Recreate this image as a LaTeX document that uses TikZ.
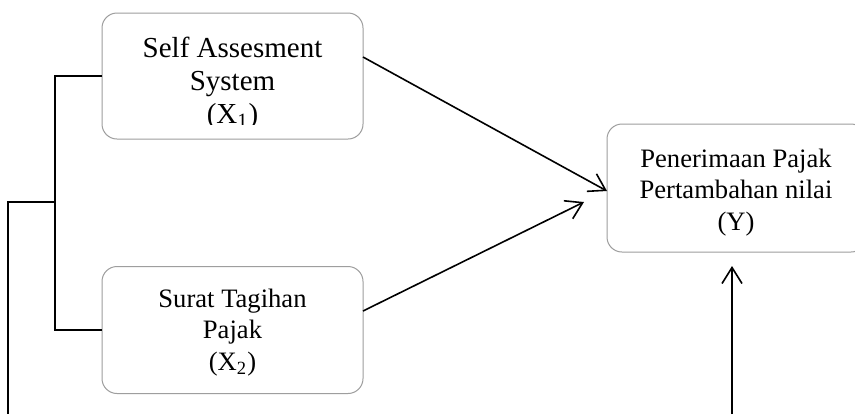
\documentclass[tikz,border=0pt]{standalone}
\usepackage{fontspec}
\setmainfont{Liberation Serif}
\usetikzlibrary{arrows.meta,calc}

\begin{document}
\begin{tikzpicture}[x=0.5pt,y=-0.5pt,
  varbox/.style={draw=black!38,line width=0.5pt,rounded corners=7.5pt,
    inner sep=0pt,outer sep=0pt},
  bigtext/.style={align=center,inner sep=0pt,
    font=\fontsize{14.5pt}{16.5pt}\selectfont},
  smalltext/.style={align=center,inner sep=0pt,
    font=\fontsize{13.3pt}{15.7pt}\selectfont},
  link/.style={line width=0.8pt,black},
  arr/.style={link,-{Straight Barb[length=8pt,width=10pt,line width=0.8pt]}}]

\useasboundingbox[fill=white] (0,0) rectangle (855,414);

% variable boxes
\node[varbox,minimum width=130.5pt,minimum height=63pt] (x1) at (232.5,76) {};
\node[varbox,minimum width=130.5pt,minimum height=63.5pt] (x2) at (232.5,330) {};
\node[varbox,minimum width=129.5pt,minimum height=64pt] (y) at (736.5,188) {};

% box texts (the first box's text overflows its frame and is cut at the bottom)
\begin{scope}
  \clip (102,13) rectangle (363,124.5);
  \node[bigtext] (x1t) at (232.5,83) {Self Assesment\\System\\(X\textsubscript{1})};
\end{scope}
\node[smalltext] (x2t) at (232.5,332.5) {Surat Tagihan\\Pajak\\(X\textsubscript{2})};
\node[smalltext] (yt) at (736,192.5) {Penerimaan Pajak\\Pertambahan nilai\\(Y)};

% bracket joining the two independent variables
\coordinate (j) at (55,202);
\coordinate (jb) at (8,414);
\draw[link] (x1.west) -| (j) |- (x2.west);
\draw[link] (j) -| (jb);

% arrows to the dependent variable
\coordinate (tip2) at (584,202);
\coordinate (yfoot) at (732,414);
\coordinate (ytip) at (732,266);
\draw[arr] ($(x1.east)+(0,-19)$) -- ($(y.west)+(0,3)$);
\draw[arr] ($(x2.east)+(0,-19)$) -- (tip2);
\draw[arr] (yfoot) -- (ytip);
\end{tikzpicture}
\end{document}
